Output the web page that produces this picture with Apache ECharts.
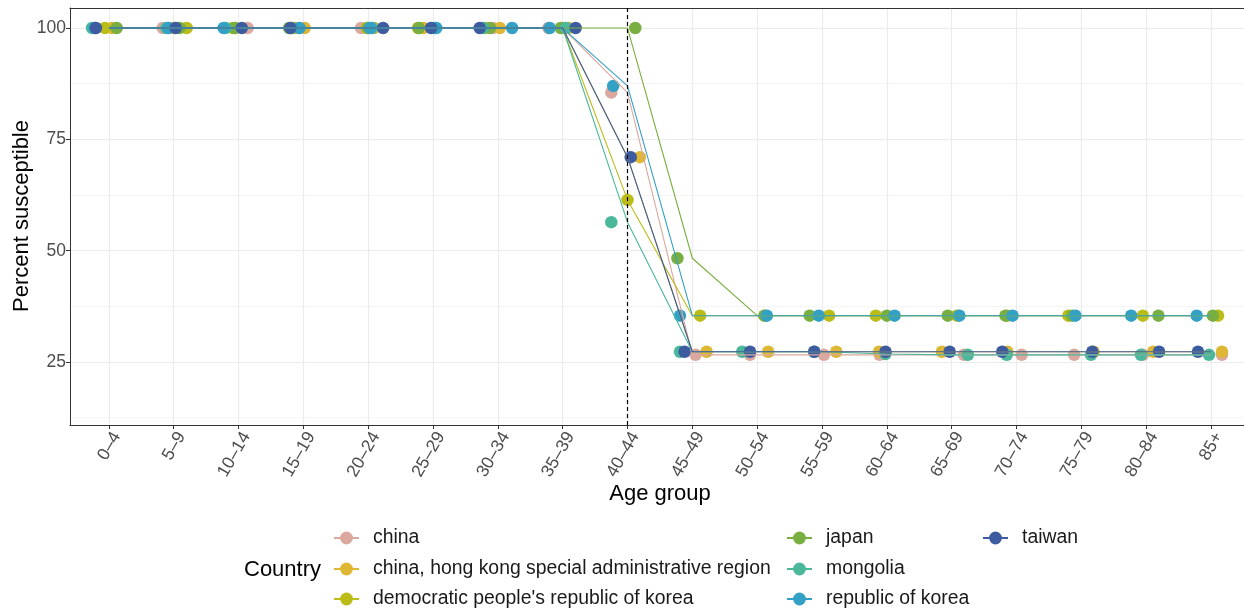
<!DOCTYPE html>
<html><head><meta charset="utf-8">
<script src="https://cdn.jsdelivr.net/npm/echarts@6/dist/echarts.min.js"></script>
<style>html,body{margin:0;padding:0;background:#fff}#c{width:1244px;height:610px}</style>
</head><body><div id="c"></div><script>
const ageGroups = ['0–4','5–9','10–14','15–19','20–24','25–29','30–34','35–39','40–44','45–49','50–54','55–59','60–64','65–69','70–74','75–79','80–84','85+'];
const countries = ['china','china, hong kong special administrative region',"democratic people's republic of korea",'japan','mongolia','republic of korea','taiwan'];
const yTicks = [25, 50, 75, 100];
const yMinorTicks = [12.5, 37.5, 62.5, 87.5];
const markedGroup = '40–44';

// Percent susceptible per age group
const chinaValues    = [100,100,100,100,100,100,100,100,85.5,26.6,26.6,26.6,26.6,26.6,26.6,26.6,26.6,26.6];
const hongKongValues = [100,100,100,100,100,100,100,100,71.0,27.3,27.3,27.3,27.3,27.3,27.3,27.3,27.3,27.3];
const dprkValues     = [100,100,100,100,100,100,100,100,61.4,35.4,35.4,35.4,35.4,35.4,35.4,35.4,35.4,35.4];
const japanValues    = [100,100,100,100,100,100,100,100,100,48.3,35.4,35.4,35.4,35.4,35.4,35.4,35.4,35.4];
const mongoliaValues = [100,100,100,100,100,100,100,100,56.4,27.3,27.3,27.3,26.8,26.6,26.6,26.6,26.6,26.6];
const rokValues      = [100,100,100,100,100,100,100,100,87.0,35.4,35.4,35.4,35.4,35.4,35.4,35.4,35.4,35.4];
const taiwanValues   = [100,100,100,100,100,100,100,100,71.0,27.3,27.3,27.3,27.3,27.3,27.3,27.3,27.3,27.3];

// Horizontal jitter of the points, in age-group units
const chinaJitter    = [-0.22,-0.17,0.14,-0.12,-0.11,-0.19,-0.08,-0.22,-0.25,0.05,-0.11,0.03,-0.11,0.19,0.08,-0.11,-0.05,0.17];
const hongKongJitter = [0.05,0,-0.05,0.02,0.09,-0.15,0.03,0.09,0.19,0.22,0.17,0.22,-0.12,-0.15,-0.14,0.19,0.11,0.17];
const dprkJitter     = [-0.06,0.20,-0.09,-0.15,-0.02,-0.23,-0.20,0,0,0.12,0.12,0.11,-0.17,0.08,-0.14,-0.20,-0.05,0.11];
const japanJitter    = [0.12,0.09,-0.06,-0.22,0,-0.22,-0.12,-0.03,0.12,-0.23,0.11,-0.19,0,-0.06,-0.17,-0.14,0.19,0.03];
const mongoliaJitter = [-0.26,-0.11,-0.20,-0.19,0.06,0.03,-0.23,0.05,-0.25,-0.19,-0.23,-0.12,-0.02,0.25,-0.15,0.15,-0.08,-0.03];
const rokJitter      = [-0.22,-0.08,-0.23,-0.06,0.03,0.05,0.22,-0.20,-0.22,-0.19,0.15,-0.05,0.12,0.12,-0.06,-0.09,-0.23,-0.22];
const taiwanJitter   = [-0.20,0.03,0.05,-0.20,0.23,-0.03,-0.28,0.20,0.05,-0.12,-0.11,-0.12,-0.02,-0.03,-0.22,0.17,0.20,-0.20];

const colors = ['#DAA89E','#DEB734','#BCBC18','#79AE40','#4BB79B','#33A0C5','#3D5CA0'];
const allValues = [chinaValues, hongKongValues, dprkValues, japanValues, mongoliaValues, rokValues, taiwanValues];
const allJitter = [chinaJitter, hongKongJitter, dprkJitter, japanJitter, mongoliaJitter, rokJitter, taiwanJitter];

const FONT = 'Liberation Sans, Arial, Helvetica, sans-serif';
const positions = ageGroups.map((g, i) => i + 1);
const X_MIN = 0.4, X_MAX = 18.51;   // visible x range (panel cut at the right edge)

const series = [];
countries.forEach((name, k) => {
  series.push({
    name, type: 'line', z: 3, symbol: 'circle', showSymbol: false, silent: true,
    lineStyle: { color: colors[k], width: 1.1 }, itemStyle: { color: colors[k] },
    data: allValues[k].map((v, i) => [positions[i], v]),
    markLine: k === 0 ? {
      silent: true, symbol: 'none', label: { show: false },
      lineStyle: { color: '#000', type: [4, 3], width: 1.2 },
      data: [{ xAxis: ageGroups.indexOf(markedGroup) + 1 }]
    } : undefined
  });
});
countries.forEach((name, k) => {
  series.push({
    name, type: 'scatter', z: 2, symbol: 'circle', symbolSize: 12.5, silent: true,
    itemStyle: { color: colors[k], opacity: 1 },
    data: allValues[k].map((v, i) => [positions[i] + allJitter[k][i], v])
  });
});

// legend laid out in 3 columns (filled column by column), one component per entry
const legendColLefts = [333, 786, 982];
const legendRowCenters = [538, 569, 599];
const legends = countries.map((name, k) => ({
  type: 'plain', orient: 'vertical', padding: 0,
  left: legendColLefts[Math.floor(k / 3)], top: legendRowCenters[k % 3] - 10,
  itemWidth: 25, itemHeight: 16, selectedMode: false, data: [name],
  textStyle: { fontSize: 19.4, color: '#1a1a1a', fontFamily: FONT, lineHeight: 20, padding: [0, 0, 0, 9] }
}));

const chart = echarts.init(document.getElementById('c'), null, { renderer: 'canvas' });
chart.setOption({
  animation: false,
  backgroundColor: '#fff',
  grid: { left: 70, top: 8, right: 0, bottom: 185, containLabel: false },
  xAxis: [{
    type: 'value', min: X_MIN, max: X_MAX,
    axisLine: { show: true, lineStyle: { color: '#333', width: 1 } },
    axisTick: { show: true, length: 4, customValues: positions, lineStyle: { color: '#333' } },
    axisLabel: { customValues: positions, rotate: 60, margin: 4, verticalAlign: 'top', color: '#4D4D4D', fontSize: 17.5, fontFamily: FONT,
      formatter: v => ageGroups[Math.round(v) - 1] || '' },
    splitLine: { show: true, lineStyle: { color: '#EBEBEB', width: 1.1 } }
  }, {
    type: 'value', min: X_MIN, max: X_MAX, position: 'top',
    axisLine: { show: true, lineStyle: { color: '#333', width: 1 } },
    axisTick: { show: false }, axisLabel: { show: false }, splitLine: { show: false }
  }],
  yAxis: [{
    type: 'value', min: 10.85, max: 104.5,
    axisLine: { show: true, lineStyle: { color: '#333' } },
    axisTick: { show: true, length: 4, customValues: yTicks, lineStyle: { color: '#333' } },
    axisLabel: { customValues: yTicks, margin: 4, color: '#4D4D4D', fontSize: 17.5, fontFamily: FONT },
    splitLine: { show: true, lineStyle: { color: '#EBEBEB', width: 1.1 } }
  }, {
    type: 'value', min: 10.85, max: 104.5, position: 'left',
    axisLine: { show: false }, axisLabel: { show: false },
    axisTick: { show: false, customValues: yMinorTicks },
    splitLine: { show: true, lineStyle: { color: '#F2F2F2', width: 0.8 } }
  }],
  legend: legends,
  graphic: [
    { type: 'text', x: 660, y: 494, style: { text: 'Age group', fontSize: 22, fontFamily: FONT, fill: '#000', align: 'center', verticalAlign: 'middle', textAlign: 'center', textVerticalAlign: 'middle' } },
    { type: 'text', x: 22, y: 216, rotation: Math.PI / 2, style: { text: 'Percent susceptible', fontSize: 22, fontFamily: FONT, fill: '#000', align: 'center', verticalAlign: 'middle', textAlign: 'center', textVerticalAlign: 'middle' } },
    { type: 'text', x: 244, y: 570, style: { text: 'Country', fontSize: 22, fontFamily: FONT, fill: '#000', align: 'left', verticalAlign: 'middle', textAlign: 'left', textVerticalAlign: 'middle' } }
  ],
  series
});
</script></body></html>
